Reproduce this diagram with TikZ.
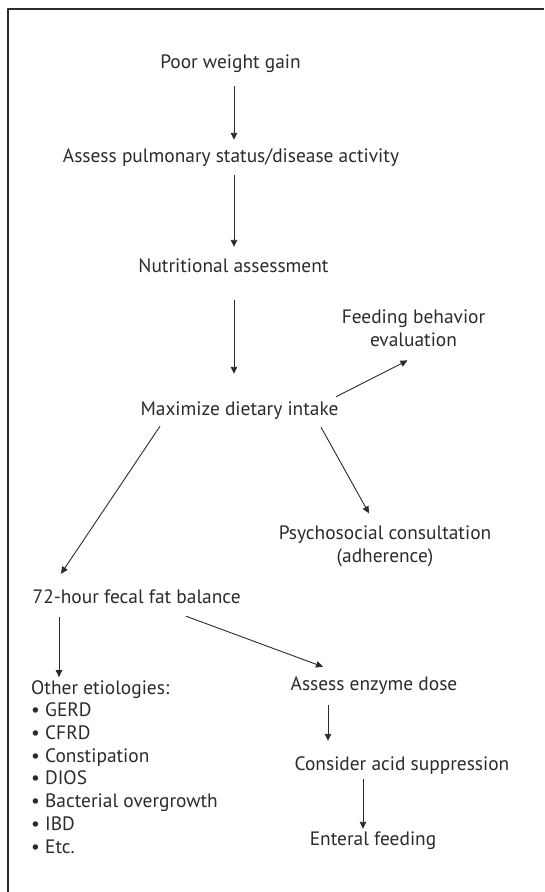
\documentclass[tikz,border=0pt]{standalone}
\usepackage{fontspec}
\setmainfont{PT Sans}
\usetikzlibrary{arrows.meta}
\definecolor{ink}{HTML}{2B2B2B}
\begin{document}
\begin{tikzpicture}[x=1pt, y=-1pt, line join=round, ink,
    txt/.style={inner sep=0pt, text height=14pt, text depth=4pt, anchor=base,
      font=\fontsize{19.4}{22.7}\selectfont},
    blk/.style={inner sep=0pt, anchor=base, font=\fontsize{19.4}{22.7}\selectfont},
    arr/.style={draw=ink, line width=0.9pt, -{Triangle[length=7pt,width=6.5pt]}}]
	% Cadre (coupé à droite et en bas)
	\useasboundingbox (0,0) rectangle (544,892);
	\draw[line width=1.3pt] (544,9) -- (8,9) -- (8,892);

	% Axe des premières flèches
	\coordinate (spine) at (234,0);

	% Étapes principales
	\node[txt] (poor) at (230.5,68) {Poor weight gain};
	\node[txt] (pulm) at (231,162) {Assess pulmonary status/disease activity};
	\node[txt] (nutr) at (233.5,272) {Nutritional assessment};
	\node[txt] (maxi) at (239.5,415) {Maximize dietary intake};
	% (base = ligne du bas pour les nœuds sur plusieurs lignes)
	\node[blk, align=center] (feed) at (413.5,346) {Feeding behavior\\evaluation};
	\node[blk, align=center] (psy) at (385,562) {Psychosocial consultation\\(adherence)};

	% Branche gauche
	\node[txt, anchor=base west] (fecal) at (32.5,603) {72-hour fecal fat balance};
	\node[blk, anchor=base west, align=left] (etio) at (31,853)
	  {Other etiologies:\\• GERD\\• CFRD\\• Constipation\\• DIOS\\• Bacterial overgrowth\\• IBD\\• Etc.};

	% Branche droite
	\node[txt] (enzy) at (374,690) {Assess enzyme dose};
	\node[txt] (acid) at (402,770) {Consider acid suppression};
	\node[txt] (ente) at (373,845) {Enteral feeding};

	% Flèches verticales du haut
	\draw[arr, shorten <=14pt, shorten >=8pt] (spine |- poor.south) -- (spine |- pulm.north);
	\draw[arr, shorten <=9pt, shorten >=11pt] (spine |- pulm.south) -- (spine |- nutr.north);
	\draw[arr, shorten <=24pt, shorten >=27pt] (spine |- nutr.south) -- (spine |- maxi.north);

	% Flèches obliques
	\draw[arr] ([xshift=96.5pt,yshift=4pt]maxi.north) -- ([xshift=-6pt,yshift=-14pt]feed.south);
	\draw[arr] ([xshift=-79.5pt,yshift=-7pt]maxi.south) -- ([xshift=28.5pt,yshift=15pt]fecal.north west);
	\draw[arr] ([xshift=81.5pt,yshift=-8pt]maxi.south) -- ([xshift=-16pt,yshift=12pt]psy.north);

	% Flèches du bas
	\draw[arr, shorten <=10pt, shorten >=3pt] ([xshift=26.5pt]fecal.south west) -- ([xshift=28pt]etio.north west);
	\draw[arr] ([xshift=153.5pt,yshift=-9pt]fecal.south west) -- ([xshift=-51pt,yshift=9pt]enzy.north);
	\draw[arr, shorten <=11pt, shorten >=15pt] ([xshift=-46pt]enzy.south) -- ([xshift=-74pt]acid.north);
	\draw[arr, shorten <=5pt, shorten >=2pt] ([xshift=-39pt]acid.south) -- ([xshift=-10pt]ente.north);
\end{tikzpicture}
\end{document}
